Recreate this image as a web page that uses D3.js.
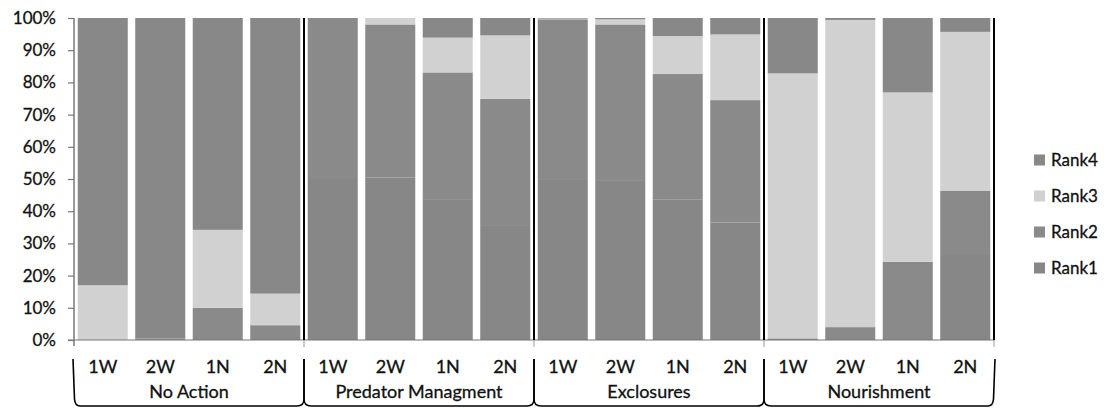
<!DOCTYPE html>
<html>
<head>
<meta charset="utf-8">
<script src="https://cdn.jsdelivr.net/npm/d3@7/dist/d3.min.js"></script>
<style>
  html, body { margin: 0; padding: 0; background: #fff; }
  svg text { font-family: Lato, "Open Sans", sans-serif; fill: #111; stroke: #111; stroke-width: 0.3px; }
</style>
</head>
<body>
<svg id="chart" width="1104" height="408"></svg>
<script>
// ---- data ----
const groups = ["No Action", "Predator Managment", "Exclosures", "Nourishment"];
const subLabels = ["1W", "2W", "1N", "2N"];
const seriesNames = ["Rank1", "Rank2", "Rank3", "Rank4"];
const rank1 = [0, 0, 0, 0,   50.3, 50.5, 43.5, 35.7,   49.7, 49.4, 43.7, 36.5,   0, 0, 0, 26.7];
const rank2 = [0, 0.5, 10, 4.6,   49.7, 47.5, 39.6, 39.2,   49.9, 48.6, 38.9, 38.0,   0.5, 4, 24.3, 19.7];
const rank3 = [17, 0, 24.2, 9.8,   0, 2, 10.8, 19.7,   0.2, 1.6, 11.8, 20.4,   82.3, 95.4, 52.6, 49.3];
const rank4 = [83, 99.5, 65.8, 85.6,   0, 0, 6.1, 5.4,   0.2, 0.4, 5.6, 5.1,   17.2, 0.6, 23.1, 4.3];
const yTicks = [0, 10, 20, 30, 40, 50, 60, 70, 80, 90, 100];

(function () {
// ---- build table ----
const cats = [];
groups.forEach((g, gi) => subLabels.forEach((s, si) => cats.push({ id: gi * 4 + si, group: g, label: s })));
const table = cats.map((c, i) => ({ id: c.id, Rank1: rank1[i], Rank2: rank2[i], Rank3: rank3[i], Rank4: rank4[i] }));
const colors = { Rank1: "#878787", Rank2: "#8a8a8a", Rank3: "#d1d1d1", Rank4: "#888888" };

const svg = d3.select("#chart");
const mLeft = 74, mRight = 994, mTop = 18, mBottom = 340;

const x = d3.scaleBand().domain(cats.map(c => c.id)).range([mLeft, mRight]).paddingInner(0.13).paddingOuter(0.065);
const y = d3.scaleLinear().domain([0, 100]).range([mBottom, mTop]);

const layers = d3.stack().keys(seriesNames)(table);

// bars
svg.append("g").selectAll("g").data(layers).join("g")
  .attr("fill", d => colors[d.key])
  .selectAll("rect").data(d => d).join("rect")
  .attr("x", d => x(d.data.id))
  .attr("width", x.bandwidth())
  .attr("y", d => y(d[1]))
  .attr("height", d => Math.max(0, y(d[0]) - y(d[1])));

// y axis
const yAxis = d3.axisLeft(y).tickValues(yTicks).tickFormat(d => d + "%").tickSize(6).tickPadding(12);
const ga = svg.append("g").attr("transform", `translate(${mLeft},0)`).call(yAxis);
ga.select(".domain").remove();
ga.selectAll(".tick line").attr("stroke", "#777").attr("stroke-width", 1.2);
ga.selectAll(".tick text").style("font-size", "17px").attr("fill", "#111");
svg.append("line").attr("x1", mLeft).attr("x2", mLeft).attr("y1", mTop).attr("y2", mBottom + 6)
  .attr("stroke", "#777").attr("stroke-width", 1.5);

// x axis baseline
svg.append("line").attr("x1", mLeft - 6).attr("x2", mRight).attr("y1", mBottom).attr("y2", mBottom)
  .attr("stroke", "#777").attr("stroke-width", 1.2);

// group boundaries
const gStep = x.step() * 4;
const groupEdge = i => mLeft + i * gStep;
d3.range(1, groups.length + 1).forEach(i => {
  const gx = groupEdge(i);
  svg.append("line").attr("x1", gx).attr("x2", gx).attr("y1", mTop).attr("y2", mBottom)
    .attr("stroke", "#000").attr("stroke-width", 2);
  svg.append("line").attr("x1", gx).attr("x2", gx).attr("y1", mBottom).attr("y2", mBottom + 7)
    .attr("stroke", "#999").attr("stroke-width", 1);
});

// category labels
svg.append("g").selectAll("text").data(cats).join("text")
  .attr("x", d => x(d.id) + x.bandwidth() / 2)
  .attr("y", 373)
  .attr("text-anchor", "middle")
  .style("font-size", "18px")
  .text(d => d.label);

// group labels
svg.append("g").selectAll("text").data(groups).join("text")
  .attr("x", (d, i) => groupEdge(i) + gStep / 2)
  .attr("y", 398)
  .attr("text-anchor", "middle")
  .style("font-size", "18px")
  .text(d => d);

// braces
const yb0 = 359, yb1 = 399, yb2 = 406;
const last = groups.length - 1;
groups.forEach((g, i) => {
  const x0 = groupEdge(i) + (i === 0 ? -1 : 0), x1 = groupEdge(i + 1) + (i === last ? 1 : 0);
  const p = d3.path();
  p.moveTo(x0, yb0);
  p.lineTo(x0 + (i === 0 ? 1.5 : 0), yb1);
  p.quadraticCurveTo(x0 + (i === 0 ? 2 : 0), yb2, x0 + 7, yb2);
  p.lineTo(x1 - 7, yb2);
  p.quadraticCurveTo(x1 - (i === last ? 2 : 0), yb2, x1 - (i === last ? 1.5 : 0), yb1);
  p.lineTo(x1, yb0);
  svg.append("path").attr("d", p.toString()).attr("fill", "none")
    .attr("stroke", "#000").attr("stroke-width", 1.6);
});

// legend
const legendOrder = ["Rank4", "Rank3", "Rank2", "Rank1"];
const lg = svg.append("g").selectAll("g").data(legendOrder).join("g")
  .attr("transform", (d, i) => `translate(1034, ${160 + i * 36})`);
lg.append("rect").attr("x", 0).attr("y", -5.5).attr("width", 11).attr("height", 11)
  .attr("fill", d => colors[d]);
lg.append("text").attr("x", 17).attr("y", 6).style("font-size", "17px").text(d => d);
})();
</script>
</body>
</html>
